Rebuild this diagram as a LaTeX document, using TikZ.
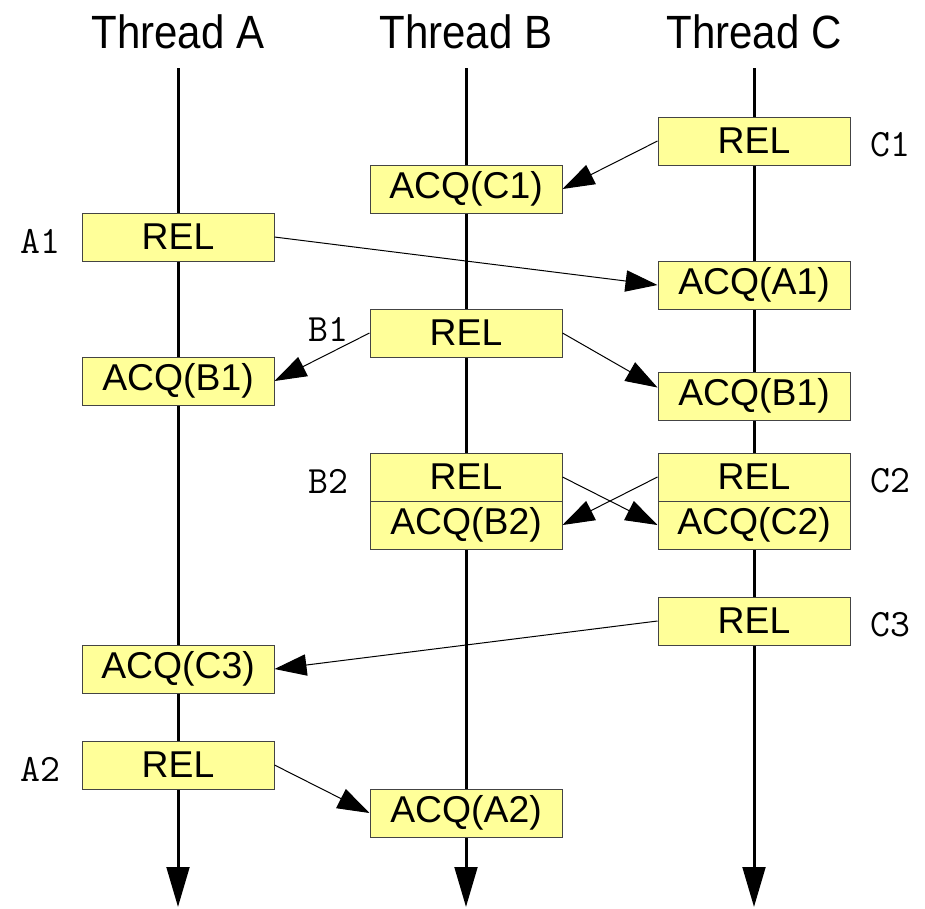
\documentclass[tikz,border=0pt]{standalone}
\usepackage{fontspec}
\usepackage{graphicx}
\setmainfont{Liberation Sans}
\usetikzlibrary{arrows.meta}
\definecolor{boxyellow}{HTML}{FFFF99}
\definecolor{boxedge}{HTML}{444444}

\begin{document}
\begin{tikzpicture}[x=0.75pt,y=-0.75pt,
  box/.style={draw=boxedge, fill=boxyellow, line width=0.75pt,
    minimum width=144pt, minimum height=36pt, inner sep=0pt,
    font=\fontsize{28}{28}\selectfont},
  title/.style={font=\fontsize{35}{35}\selectfont, inner sep=0pt},
  evlabel/.style={font=\ttfamily\fontsize{29}{29}\selectfont, inner sep=0pt},
  thread/.style={line width=2.25pt, -{Triangle[length=30pt,width=17pt]}},
  sync/.style={line width=0.75pt, -{Triangle[length=24pt,width=16pt]}}]

\useasboundingbox (0,0) rectangle (925,908);

% thread titles
\node[title] (ta) at (178,32) {\scalebox{0.9}[1]{Thread A}};
\node[title] (tb) at (466,32) {\scalebox{0.9}[1]{Thread B}};
\node[title] (tc) at (754,32) {\scalebox{0.9}[1]{Thread C}};

% time lines
\coordinate (atop) at (178,68);  \coordinate (abot) at (178,907);
\coordinate (btop) at (466,68);  \coordinate (bbot) at (466,907);
\coordinate (ctop) at (754,68);  \coordinate (cbot) at (754,907);
\draw[thread] (atop) -- (abot);
\draw[thread] (btop) -- (bbot);
\draw[thread] (ctop) -- (cbot);

% thread A events
\node[box] (arel1)  at (178,237) {REL};
\node[box] (aacqb1) at (178,381) {ACQ(B1)};
\node[box] (aacqc3) at (178,669) {ACQ(C3)};
\node[box] (arel2)  at (178,765) {REL};

% thread B events
\node[box] (bacqc1) at (466,189) {ACQ(C1)};
\node[box] (brel1)  at (466,333) {REL};
\node[box] (brel2)  at (466,477) {REL};
\node[box] (bacqb2) at (466,525) {ACQ(B2)};
\node[box] (bacqa2) at (466,813) {ACQ(A2)};

% thread C events
\node[box] (crel1)  at (754,141) {REL};
\node[box] (cacqa1) at (754,285) {ACQ(A1)};
\node[box] (cacqb1) at (754,396) {ACQ(B1)};
\node[box] (crel2)  at (754,477) {REL};
\node[box] (cacqc2) at (754,525) {ACQ(C2)};
\node[box] (crel3)  at (754,621) {REL};

% release labels
\node[evlabel] (la1) at (40,241)  {A1};
\node[evlabel] (la2) at (40,769)  {A2};
\node[evlabel] (lb1) at (328,329) {B1};
\node[evlabel] (lb2) at (328,481) {B2};
\node[evlabel] (lc1) at (890,145) {C1};
\node[evlabel] (lc2) at (890,481) {C2};
\node[evlabel] (lc3) at (890,625) {C3};

% synchronisation edges
\draw[sync] (crel1.west) -- (bacqc1.east);
\draw[sync] (arel1.east) -- (cacqa1.west);
\draw[sync] (brel1.west) -- (aacqb1.east);
\draw[sync] (brel1.east) -- ([yshift=-12pt]cacqb1.north west);
\draw[sync] (brel2.east) -- (cacqc2.west);
\draw[sync] (crel2.west) -- (bacqb2.east);
\draw[sync] (crel3.west) -- (aacqc3.east);
\draw[sync] (arel2.east) -- (bacqa2.west);
\end{tikzpicture}
\end{document}
